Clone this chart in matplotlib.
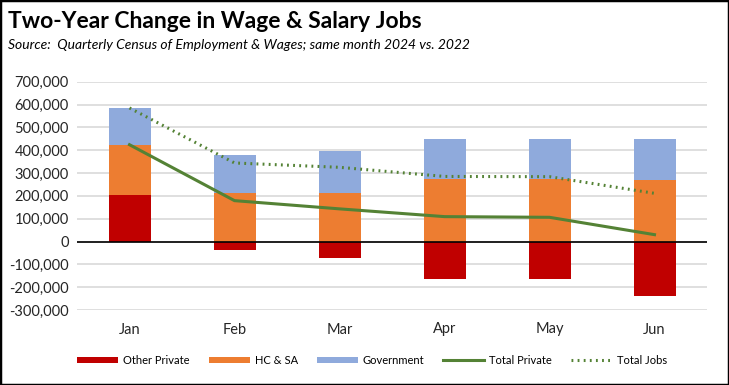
import numpy as np
import matplotlib.pyplot as plt
from matplotlib.patches import Rectangle
from matplotlib.ticker import FuncFormatter

plt.rcParams['font.family'] = ['Lato', 'DejaVu Sans']

# ===== DATOS =====
meses = ['Jan', 'Feb', 'Mar', 'Apr', 'May', 'Jun']
other_private = [205000, -35000, -71000, -163000, -166000, -239000]
hc_sa = [219000, 214000, 214000, 272000, 272000, 269000]
government = [161000, 165000, 182000, 176000, 178000, 181000]

otros = np.array(other_private)
hc = np.array(hc_sa)
gob = np.array(government)
total_private = otros + hc
total_jobs = total_private + gob

c_rojo = '#C00000'
c_naranja = '#ED7D31'
c_azul = '#8FAADC'
c_verde = '#548235'

# ===== FIGURA =====
fig = plt.figure(figsize=(7.29, 3.85), dpi=100)
ax = fig.add_axes([77/729, 1 - 310/385, 630/729, (310 - 81.7)/385])

x = np.arange(len(meses))
ancho = 0.4

# HC & SA arranca en 0 si Other Private es negativo
base_hc = np.where(otros > 0, otros, 0)
b1 = ax.bar(x, otros, ancho, color=c_rojo, label='Other Private', zorder=2)
b2 = ax.bar(x, hc, ancho, bottom=base_hc, color=c_naranja, label='HC & SA', zorder=2)
b3 = ax.bar(x, gob, ancho, bottom=base_hc + hc, color=c_azul, label='Government', zorder=2)

l1, = ax.plot(x, total_private, color=c_verde, lw=2.2, label='Total Private', zorder=3)
l2, = ax.plot(x, total_jobs, color=c_verde, lw=2.2, ls=(0, (0.6, 1.4)), label='Total Jobs', zorder=3)

ax.axhline(0, color='black', lw=1.2, zorder=2.5)

ax.set_xlim(-0.5, len(meses) - 0.5)
ax.set_ylim(-300000, 700000)
ax.set_yticks(np.arange(-300000, 700001, 100000))
ax.yaxis.set_major_formatter(FuncFormatter(lambda v, p: f'{int(v):,}'))
ax.set_xticks(x)
ax.set_xticklabels(meses)
ax.tick_params(axis='both', length=0, labelsize=10.5, colors='#262626')
ax.tick_params(axis='x', pad=9)
ax.tick_params(axis='y', pad=6)
ax.grid(axis='y', color='#d9d9d9', lw=1.2, zorder=0)
ax.set_axisbelow(True)
for s in ax.spines.values():
    s.set_visible(False)

# ===== TITULOS =====
fig.text(8/729, 1 - 21/385, 'Two-Year Change in Wage & Salary Jobs', fontsize=16.5,
         fontweight='bold', va='center', ha='left')
fig.text(8/729, 1 - 45/385, 'Source:  Quarterly Census of Employment & Wages; same month 2024 vs. 2022',
         fontsize=10, style='italic', va='center', ha='left')

# ===== LEYENDA =====
fig.legend([b1, b2, b3, l1, l2], ['Other Private', 'HC & SA', 'Government', 'Total Private', 'Total Jobs'],
           loc='center left', bbox_to_anchor=(77/729, 1 - 360/385), ncol=5, frameon=False,
           fontsize=8, handlelength=3.7, handleheight=0.45, columnspacing=1.7, handletextpad=0.45,
           borderpad=0, borderaxespad=0)

# borde
fig.patches.append(Rectangle((0, 0), 1, 1, transform=fig.transFigure, fill=False,
                             edgecolor='black', lw=2.5))

fig.savefig('out.png', dpi=100)
